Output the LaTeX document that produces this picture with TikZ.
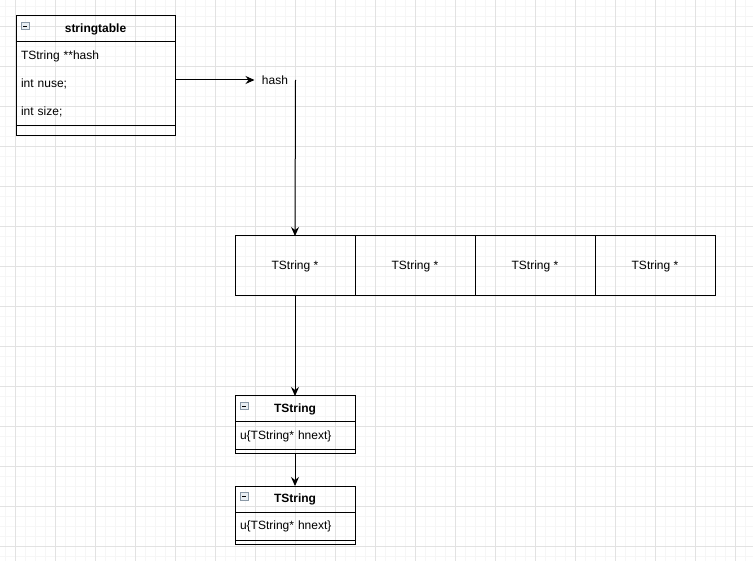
\documentclass[tikz,border=0pt]{standalone}
\usepackage{fontspec}
\setmainfont{Liberation Sans}
\usetikzlibrary{shapes.geometric, arrows.meta, positioning}
\definecolor{gridminor}{HTML}{F6F6F6}
\definecolor{gridmajor}{HTML}{E2E2E2}
\definecolor{togglebox}{HTML}{8A98A6}
\definecolor{togglefill}{HTML}{E8EEF3}
\tikzstyle{classhead} = [rectangle, 
			draw, 
			outer sep = 0pt, 
			text centered, 
			minimum height = 26pt, 
			font = \fontsize{12}{14}\selectfont\bfseries]
\tikzstyle{fields} = [rectangle, 
			draw, 
			outer sep = 0pt, 
			inner xsep = 5pt, 
			align = left, 
			font = \fontsize{12}{28}\selectfont]
\tikzstyle{foot} = [rectangle, 
			draw, 
			outer sep = 0pt, 
			inner sep = 0pt]
\tikzstyle{cell} = [rectangle, 
			draw, 
			outer sep = 0pt, 
			text centered, 
			minimum width = 120pt, 
			minimum height = 60pt, 
			font = \fontsize{12}{14}\selectfont]
\tikzstyle{toggle} = [rectangle, 
			draw = togglebox, 
			fill = togglefill, 
			line width = 0.6pt, 
			inner sep = 0pt, 
			minimum size = 7.5pt, 
			path picture = {\draw [black, line width = 0.9pt] 
				([xshift=1.6pt]path picture bounding box.west) -- 
				([xshift=-1.6pt]path picture bounding box.east);}]
\tikzstyle{line} = [draw, 
			line width = 1pt, 
			-{Stealth[length = 9pt, width = 8pt, inset = 3pt]}]

\begin{document}
\begin{tikzpicture}[x = 1pt, y = -1pt, node distance = 0pt, auto, line width = 1pt]
	\useasboundingbox (0,0) rectangle (753,561);
	% background grid
	\foreach \gx in {5,15,...,753} \draw [gridminor, line width = 0.8pt] (\gx,0) -- (\gx,561);
	\foreach \gy in {6,16,...,561} \draw [gridminor, line width = 0.8pt] (0,\gy) -- (753,\gy);
	\foreach \gx in {15,55,...,753} \draw [gridmajor, line width = 0.8pt] (\gx,0) -- (\gx,561);
	\foreach \gy in {26,66,...,561} \draw [gridmajor, line width = 0.8pt] (0,\gy) -- (753,\gy);

	% stringtable
	\node [classhead, minimum width = 159pt, anchor = north west] (stringtable) at (16,16) {stringtable};
	\node [fields, text width = 149pt, minimum height = 84pt, below=of stringtable] (tablefields) {TString **hash\\int nuse;\\int size;};
	\node [foot, minimum width = 159pt, minimum height = 10pt, below=of tablefields] (tablefoot) {};
	\node [toggle, anchor = north west] (tabletoggle) at ([shift={(5,6)}]stringtable.north west) {};

	% hash array
	\node [minimum width = 40pt, minimum height = 20pt, inner sep = 0pt, font = \fontsize{12}{14}\selectfont] (hash) at (275,80) {hash};
	\node [cell, anchor = north west] (slot1) at (235,236) {TString *};
	\node [cell, right=of slot1] (slot2) {TString *};
	\node [cell, right=of slot2] (slot3) {TString *};
	\node [cell, right=of slot3] (slot4) {TString *};

	% TString chain
	\node [classhead, minimum width = 120pt, below=100pt of slot1] (tstring1) {TString};
	\node [fields, text width = 110pt, minimum height = 28pt, font = \fontsize{12}{14}\selectfont, below=of tstring1] (tstring1body) {u\{TString* hnext\}};
	\node [foot, minimum width = 120pt, minimum height = 4pt, below=of tstring1body] (tstring1foot) {};
	\node [toggle, anchor = north west] (tstring1toggle) at ([shift={(5,6)}]tstring1.north west) {};

	\node [classhead, minimum width = 120pt, below=32pt of tstring1foot] (tstring2) {TString};
	\node [fields, text width = 110pt, minimum height = 28pt, font = \fontsize{12}{14}\selectfont, below=of tstring2] (tstring2body) {u\{TString* hnext\}};
	\node [foot, minimum width = 120pt, minimum height = 4pt, below=of tstring2body] (tstring2foot) {};
	\node [toggle, anchor = north west] (tstring2toggle) at ([shift={(5,6)}]tstring2.north west) {};

	\draw [line] (tablefields.east |- hash.west) -- (hash.west);
	\draw [line] (hash.east) -- (slot1.north);
	\draw [line] (slot1.south) -- (tstring1.north);
	\draw [line] (tstring1foot.south) -- (tstring2.north);
\end{tikzpicture}
\end{document}
